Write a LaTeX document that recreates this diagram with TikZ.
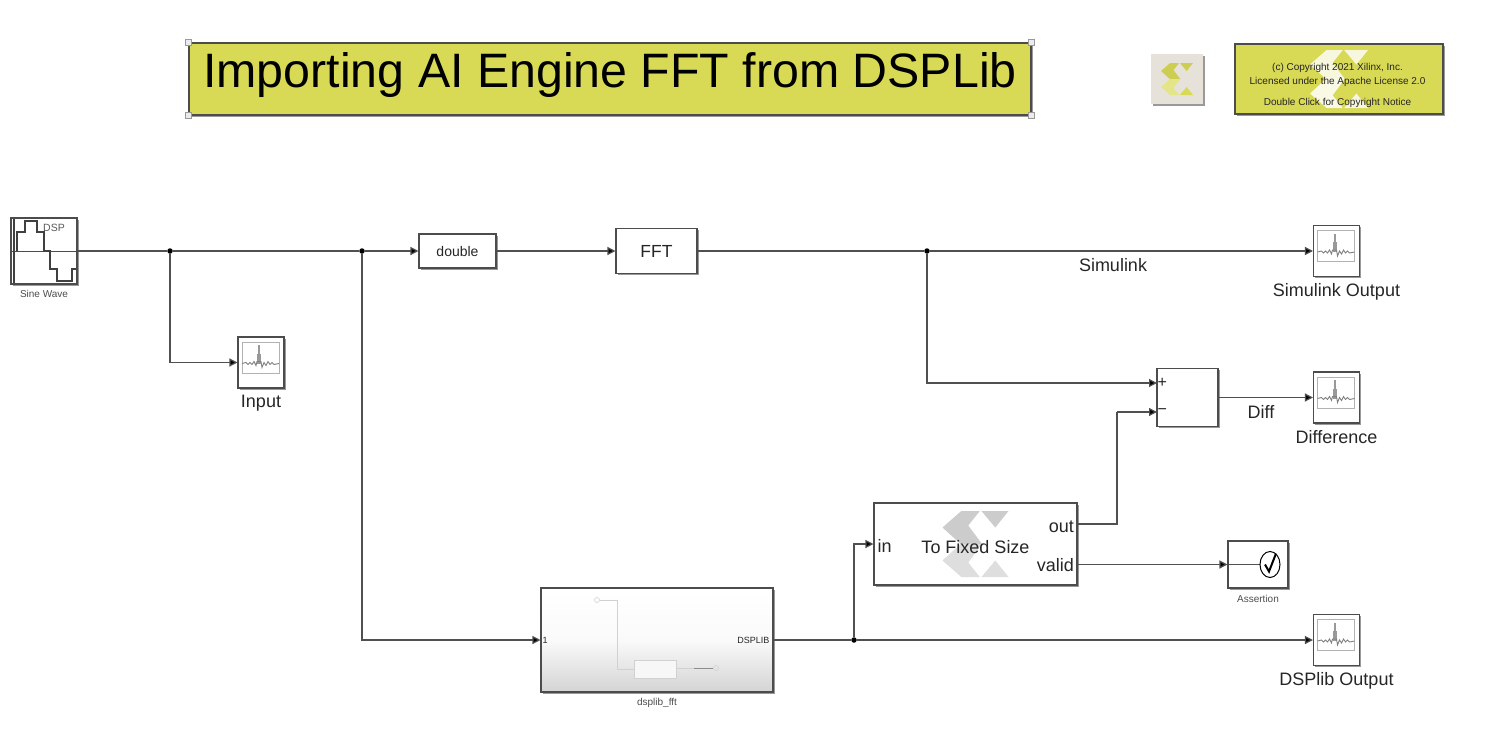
\documentclass[tikz,border=0pt]{standalone}
\usepackage{fontspec}
\setmainfont{Liberation Sans}
\usepackage{xcolor}
\usetikzlibrary{positioning, arrows.meta, shadows}

\definecolor{titleyellow}{HTML}{D8D955}
\definecolor{wirecol}{HTML}{505050}
\definecolor{textcol}{HTML}{262626}
\definecolor{logoback}{HTML}{E6E2DA}

\newcommand{\fsz}[1]{\fontsize{#1}{#1}\selectfont}
% logo: placement, half size, three colours
\newcommand{\xlogo}[5]{%
  \begin{scope}[shift={(path picture bounding box.center)},#1,x=#2pt,y=#2pt]
    \fill[#3] (-.43,1) -- (.13,1) -- (-.22,.56) -- (.2,0) -- (-.45,0) -- (-1,.5) -- cycle;
    \fill[#4] (-.43,-1) -- (.13,-1) -- (-.22,-.56) -- (.2,0) -- (-.45,0) -- (-1,-.5) -- cycle;
    \fill[#3] (.18,1) -- (1,1) -- (.6,.5) -- cycle;
    \fill[#5] (.18,-1) -- (1,-1) -- (.6,-.5) -- cycle;
  \end{scope}}

\begin{document}
\begin{tikzpicture}[x=1pt,y=-1pt,font=\fsz{18},text=textcol,
    blockbox/.style={rectangle,draw=black!70,line width=1.05pt,fill=white,inner sep=0pt,
      drop shadow={shadow xshift=1.8pt,shadow yshift=-1.8pt,fill=black,opacity=.4}},
    scopebox/.style={blockbox,minimum width=46pt,minimum height=51pt,
      path picture={
        \begin{scope}[shift={(path picture bounding box.center)}]
          \draw[black!30,line width=1pt,fill=white] (-19,-20.5) rectangle (18,10.5);
          \fill[black!40] (-4,1) rectangle (0,-9);
          \fill[black!40] (-3,-9) rectangle (-1,-17.5);
          \draw[black!50,line width=.9pt] (-19,1) -- (-15,0) -- (-13,2) -- (-11,0) -- (-9,2) -- (-7,-1)
            -- (-5,3) -- (-4,-1) -- (0,-1) -- (1,5) -- (3,0) -- (5,3) -- (7,-1) -- (9,2) -- (11,0) -- (13,2) -- (18,1);
        \end{scope}}},
    smalllabel/.style={font=\fsz{10},text=black!70},
    junction/.style={circle,fill=black,inner sep=0pt,minimum size=5.5pt},
    handle/.style={rectangle,draw=black!40,fill=black!8,line width=.8pt,inner sep=0pt,minimum size=6pt},
    wire/.style={draw=wirecol,line width=1.2pt},
    arrowwire/.style={wire,-{Triangle[length=8pt,width=8pt,fill=black]}},
    elbow/.style={to path={|- (\tikztotarget)}}]

  \useasboundingbox (0,0) rectangle (1489,731);

  % header
  \node[blockbox,fill=titleyellow,minimum width=842pt,minimum height=72pt] (title) at (610,79) {};
  \node[font=\fsz{48.3},text=black] (titletext) at (610,75.5) {Importing AI Engine FFT from DSPLib};
  \foreach \corner/\idx in {north west/a,north east/b,south west/c,south east/d}
    \node[handle] (handle\idx) at (title.\corner) {};
  \node[blockbox,draw=none,fill=logoback,minimum width=52pt,minimum height=50pt,
    path picture={\xlogo{}{16}{titleyellow!95!black}{titleyellow!70!white}{titleyellow}}] (logo) at (1177,79) {};
  \node[blockbox,fill=titleyellow,minimum width=208pt,minimum height=70pt,
    path picture={\xlogo{xshift=-2pt}{29}{white!80!titleyellow}{white!85!titleyellow}{white!80!titleyellow}}] (license) at (1339,79) {};
  \node[align=center,font=\fsz{10}] (licensetext) at (1337.5,85.5)
    {(c) Copyright 2021 Xilinx, Inc.\\[4pt]Licensed under the Apache License 2.0\\[11pt]Double Click for Copyright Notice};

  % blocks
  \node[blockbox,minimum width=66pt,minimum height=66pt,
    path picture={
      \begin{scope}[shift={(path picture bounding box.center)}]
        \draw[black!70,line width=1pt] (-33,0) -- (33,0);
        \draw[black!75,line width=1.3pt] (-30,-33) -- (-30,33);
        \draw[black!75,line width=1.3pt] (-27,0) -- (-27,-19) -- (-19,-19) -- (-19,-30) -- (-7,-30) -- (-7,-19) -- (0,-19)
          -- (0,0) -- (6,0) -- (6,18) -- (13,18) -- (13,30) -- (28,30) -- (28,18) -- (33,18);
      \end{scope}}] (sine) at (44,251) {};
  \node[font=\fsz{10.5},text=black!65] (sinetag) at (54,227.5) {DSP};
  \node[smalllabel,below=2pt of sine] (sinename) {Sine Wave};
  \node[blockbox,minimum width=77pt,minimum height=34pt,font=\fsz{14}] (double) at (457.5,251) {double};
  \node[blockbox,minimum width=81pt,minimum height=45pt,font=\fsz{17.5}] (fft) at (656.5,251) {FFT};

  \node[scopebox] (simscope) at (1336.5,251) {};
  \node[below=3pt of simscope] (simname) {Simulink Output};
  \node[scopebox] (inscope) at (261,362.5) {};
  \node[below=3pt of inscope] (inname) {Input};
  \node[scopebox] (diffscope) at (1336.5,397.5) {};
  \node[below=3pt of diffscope] (diffname) {Difference};
  \node[scopebox] (dspscope) at (1336.5,640) {};
  \node[below=3pt of dspscope] (dspname) {DSPlib Output};

  \node[blockbox,minimum width=61pt,minimum height=58pt] (sum) at (1187.5,397.5) {};
  \coordinate (sumplus) at (1157,383);
  \coordinate (summinus) at (1157,412);
  \node[font=\fsz{16},right=0.5pt of sumplus,inner sep=0pt] (plussign) {+};
  \node[font=\fsz{16},right=0.5pt of summinus,inner sep=0pt] (minussign) {−};

  \node[blockbox,minimum width=203pt,minimum height=82pt,
    path picture={\xlogo{yshift=-1pt}{33}{black!20}{black!13}{black!13}}] (fixed) at (975.5,544) {};
  \node (fixedname) at (975.5,547) {To Fixed Size};
  \coordinate (fixedout) at (1077,524);
  \coordinate (fixedvalid) at (1077,564.5);
  \node[left=3pt of fixedout,inner sep=0pt,yshift=-2.5pt] (outname) {out};
  \node[left=3pt of fixedvalid,inner sep=0pt,yshift=-1pt] (validname) {valid};
  \node[right=4pt of fixed.west,inner sep=0pt,yshift=-2pt] (inportname) {in};

  \node[blockbox,minimum width=60pt,minimum height=47pt,
    path picture={
      \begin{scope}[shift={(path picture bounding box.center)}]
        \draw[wire] (-30,0) -- (2,0);
        \draw[black,line width=1pt] (12,0) ellipse (10 and 13);
        \draw[black,line width=2pt] (7,0) -- (11,7) -- (18,-11);
      \end{scope}}] (assert) at (1258,564.5) {};
  \node[smalllabel,below=3pt of assert] (assertname) {Assertion};

  \node[blockbox,minimum width=232pt,minimum height=104pt,shade,top color=white,bottom color=black!17,middle color=black!2,
    path picture={
      \begin{scope}[shift={(path picture bounding box.center)},black!18,line width=.6pt]
        \draw (-60,-40) circle (2.5);
        \draw (-57,-40) -- (-40,-40) -- (-40,29) -- (-23,29);
        \draw[fill=black!3] (-23,20) rectangle (19,38);
        \draw (19,28) -- (37,28);
        \draw[black!45] (37,28) -- (56,28);
        \draw (59,28) circle (2.5);
      \end{scope}}] (dsplib) at (657,640) {};
  \node[font=\fsz{9},right=2pt of dsplib.west,inner sep=0pt] (portone) {1};
  \node[font=\fsz{9},left=4pt of dsplib.east,inner sep=0pt] (portdsp) {DSPLIB};
  \node[smalllabel,below=2pt of dsplib] (dspblockname) {dsplib\_fft};

  % junctions
  \node[junction] (j1) at (170,251) {};
  \node[junction] (j2) at (362,251) {};
  \node[junction] (j3) at (927,251) {};
  \node[junction] (j4) at (854,640) {};
  \coordinate (outbend) at (1117,412);

  % signal names
  \node (simwire) at (1113,265) {Simulink};
  \node (diffwire) at (1261,412) {Diff};

  % wires
  \path[every edge/.style={wire}]
  (sine) edge (j1)
  (j1) edge (j2)
  (fft) edge (j3)
  (dsplib) edge (j4);
  \draw[wire] (fixedout) -| (outbend);

  \path[every edge/.style={arrowwire}]
  (j2) edge (double)
  (double) edge (fft)
  (j3) edge (simscope)
  (j1) edge[elbow] (inscope)
  (j2) edge[elbow] (dsplib)
  (j3) edge[elbow] (sumplus)
  (j4) edge[elbow] (fixed.west)
  (j4) edge (dspscope)
  (outbend) edge (summinus)
  (sum) edge (diffscope)
  (fixedvalid) edge (assert);
\end{tikzpicture}
\end{document}
